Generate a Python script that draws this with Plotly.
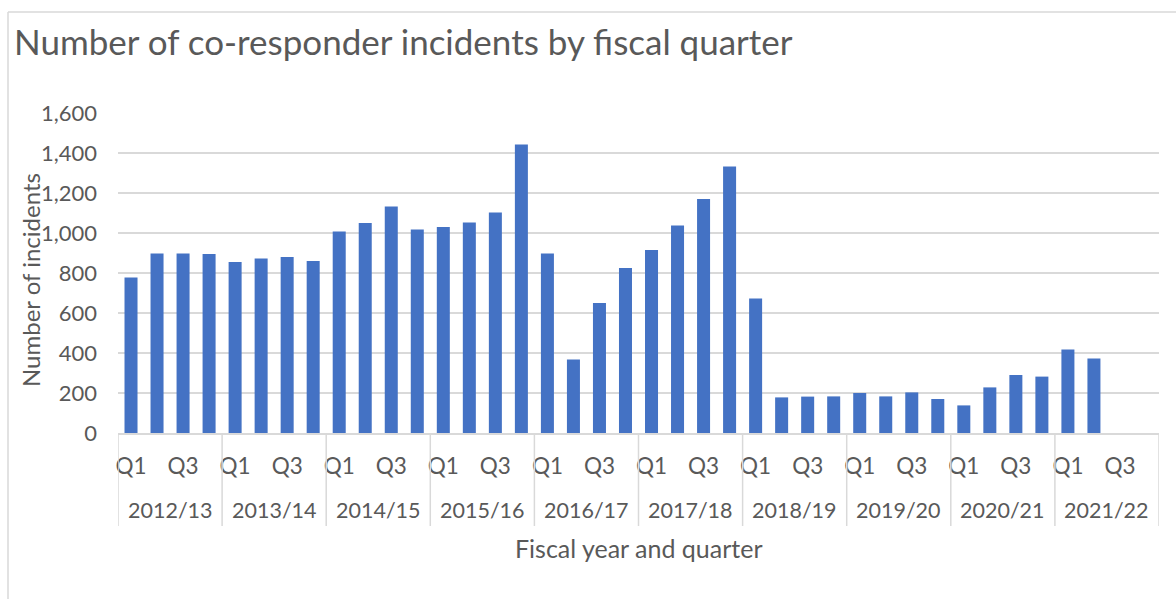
import plotly.graph_objects as go

# ---- data ----
years = ["2012/13", "2013/14", "2014/15", "2015/16", "2016/17",
         "2017/18", "2018/19", "2019/20", "2020/21", "2021/22"]
quarters = ["Q1", "Q2", "Q3", "Q4"]
incidents = [
    777, 898, 897, 895,        # 2012/13
    855, 873, 880, 860,        # 2013/14
    1007, 1050, 1133, 1018,    # 2014/15
    1030, 1053, 1102, 1443,    # 2015/16
    898, 368, 650, 825,        # 2016/17
    915, 1038, 1170, 1332,     # 2017/18
    672, 178, 182, 183,        # 2018/19
    200, 183, 203, 170,        # 2019/20
    138, 228, 290, 282,        # 2020/21
    417, 373, None, None,      # 2021/22
]
shown_quarters = ["Q1", "Q3"]

title_text = "Number of co-responder incidents by fiscal quarter"
y_title = "Number of incidents"
x_title = "Fiscal year and quarter"

# ---- styling ----
FONT = "Lato"
TXT = "#595959"
GRID = "#d9d9d9"
BAR = "#4472c4"

W, H = 1176, 599
L, R, T, B = 118, 17, 113, 166
plot_w = W - L - R
plot_h = H - T - B

cats = [f"{y} {q}" for y in years for q in quarters]
tickvals = [f"{y} {q}" for y in years for q in shown_quarters]
ticktext = [q for y in years for q in shown_quarters]

fig = go.Figure(go.Bar(x=cats, y=incidents, marker=dict(color=BAR, line=dict(width=0))))

def py(px_below_axis):
    return -px_below_axis / plot_h

shapes = []
nq = len(quarters)
for k in range(len(years) + 1):
    xv = k * nq - 0.5
    shapes.append(dict(type="line", xref="x", yref="paper", x0=xv, x1=xv,
                       y0=0, y1=py(93), line=dict(color=GRID, width=1.5)))
# outer chart border (left and top edges)
bx = (8 - L) / plot_w
by = (H - B - 12) / plot_h
shapes.append(dict(type="line", xref="paper", yref="paper", x0=bx, x1=bx,
                   y0=py(B + 10), y1=by, line=dict(color=GRID, width=1.5)))
shapes.append(dict(type="line", xref="paper", yref="paper", x0=bx, x1=(W + 10 - L) / plot_w,
                   y0=by, y1=by, line=dict(color=GRID, width=1.5)))

annotations = []
for i, yr in enumerate(years):
    annotations.append(dict(text=yr, xref="x", yref="paper", x=i * nq + (nq - 1) / 2,
                            y=py(77), showarrow=False, yanchor="middle",
                            font=dict(family=FONT, size=21.5, color=TXT)))
annotations.append(dict(text=x_title, xref="paper", yref="paper", x=0.5, y=py(115),
                        showarrow=False, yanchor="middle",
                        font=dict(family=FONT, size=25, color=TXT)))
annotations.append(dict(text=y_title, xref="paper", yref="paper", x=(30 - L) / plot_w,
                        y=0.5 - (280 - (T + plot_h / 2)) / plot_h, textangle=-90,
                        showarrow=False, xanchor="center", yanchor="middle",
                        font=dict(family=FONT, size=24, color=TXT)))

fig.update_layout(
    width=W, height=H,
    margin=dict(l=L, r=R, t=T, b=B, autoexpand=False),
    paper_bgcolor="white", plot_bgcolor="white",
    showlegend=False,
    bargap=0.5,
    title=dict(text=title_text, xref="container", yref="container",
               x=14 / W, y=1 - 43 / H, xanchor="left", yanchor="middle",
               font=dict(family=FONT, size=35, color=TXT)),
    xaxis=dict(type="category", categoryorder="array", categoryarray=cats,
               range=[-0.5, len(cats) - 0.5],
               tickmode="array", tickvals=tickvals, ticktext=ticktext,
               showgrid=False, showline=True, linecolor=GRID, linewidth=1.5,
               ticks="", ticklabelstandoff=12, tickangle=0,
               tickfont=dict(family=FONT, size=22.5, color=TXT)),
    yaxis=dict(range=[0, 1600], dtick=200, tickformat=",", showgrid=True,
               gridcolor=GRID, gridwidth=1.5, zeroline=False, showline=False,
               ticks="", ticklabelstandoff=20,
               tickfont=dict(family=FONT, size=22, color=TXT)),
    shapes=shapes, annotations=annotations,
)

fig.write_html("out.html", config={"displayModeBar": False},
               post_script="document.body.style.margin='0';")
